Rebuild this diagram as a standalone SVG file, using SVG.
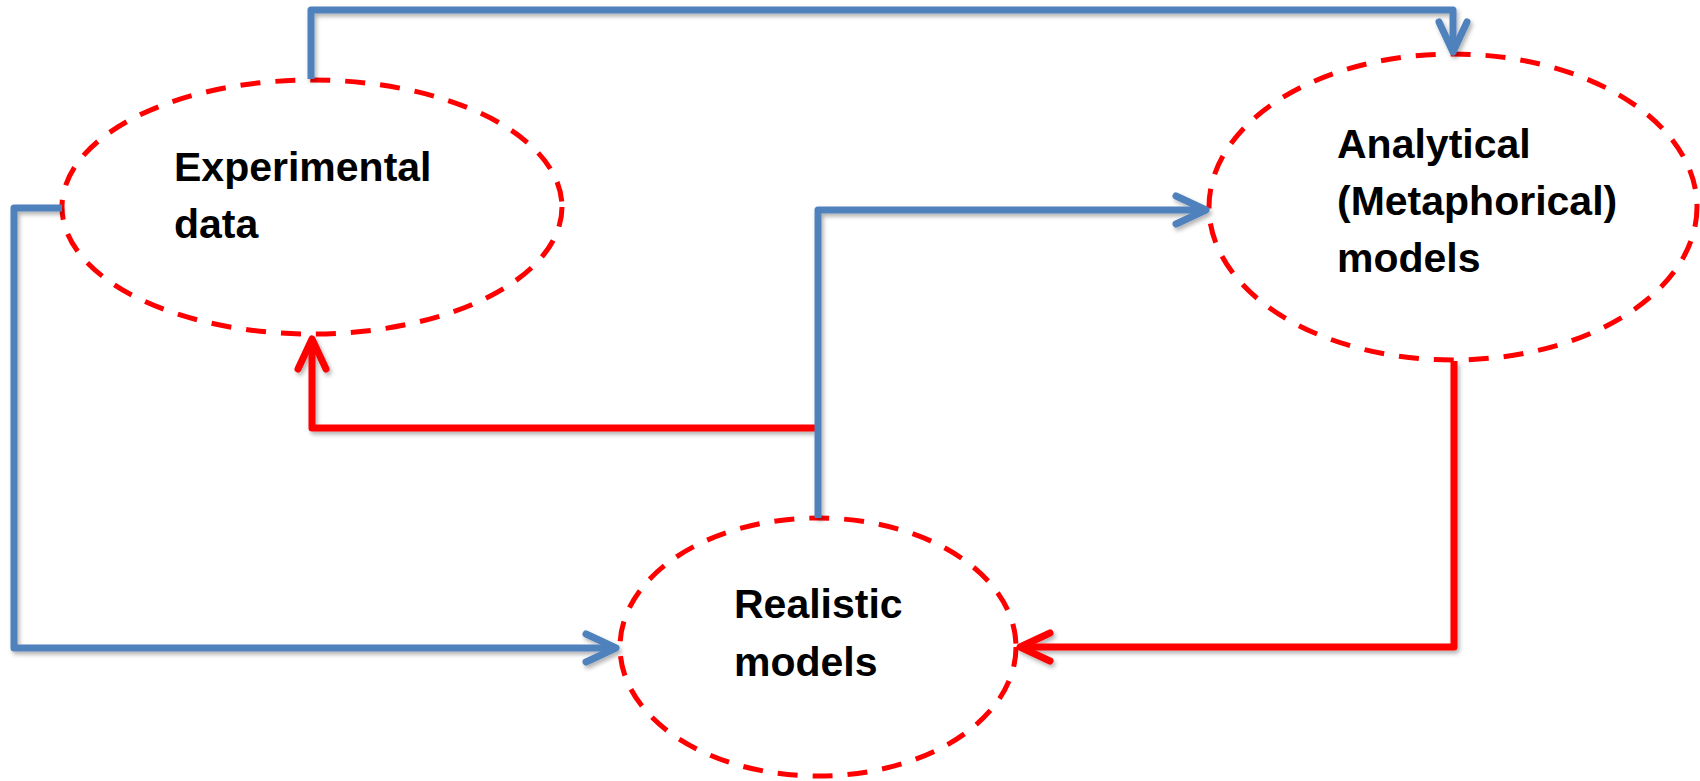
<svg xmlns="http://www.w3.org/2000/svg" width="1700" height="781" viewBox="0 0 1700 781">
  <style>
    .node { fill: none; stroke: #FF0000; stroke-width: 5; stroke-dasharray: 20 15; }
    .label { font-family: "Liberation Sans", Arial, sans-serif; font-weight: bold; font-size: 41px; fill: #000000; }
    .wire { fill: none; stroke-width: 7; stroke-linejoin: round; stroke-linecap: butt; }
    .blue { stroke: #4F81BD; }
    .red { stroke: #FF0000; }
  </style>
  <defs>
    <filter id="shade" x="-5%" y="-5%" width="110%" height="110%">
      <feDropShadow dx="2" dy="3" stdDeviation="2" flood-color="#000000" flood-opacity="0.3"/>
    </filter>
    <marker id="arrow-blue" markerUnits="userSpaceOnUse" markerWidth="40" markerHeight="40" refX="0" refY="0" orient="auto" overflow="visible">
      <path d="M -30 -14 L 0 0 L -30 14" fill="none" stroke="#4F81BD" stroke-width="7" stroke-linecap="round" stroke-linejoin="round"/>
    </marker>
    <marker id="arrow-red" markerUnits="userSpaceOnUse" markerWidth="40" markerHeight="40" refX="0" refY="0" orient="auto" overflow="visible">
      <path d="M -30 -14 L 0 0 L -30 14" fill="none" stroke="#FF0000" stroke-width="7" stroke-linecap="round" stroke-linejoin="round"/>
    </marker>
  </defs>

  <rect x="0" y="0" width="1700" height="781" fill="#FFFFFF"/>

  <g id="experimental-data">
    <ellipse class="node" cx="312" cy="207" rx="250" ry="127"/>
    <text class="label" x="174" y="181">Experimental</text>
    <text class="label" x="174" y="238">data</text>
  </g>

  <g id="analytical-models">
    <ellipse class="node" cx="1453" cy="207" rx="244" ry="153"/>
    <text class="label" x="1337" y="158">Analytical</text>
    <text class="label" x="1337" y="215">(Metaphorical)</text>
    <text class="label" x="1337" y="272">models</text>
  </g>

  <g id="realistic-models">
    <ellipse class="node" cx="818" cy="647" rx="198" ry="129"/>
    <text class="label" x="734" y="618">Realistic</text>
    <text class="label" x="734" y="676">models</text>
  </g>

  <g id="connectors" filter="url(#shade)">
    <!-- realistic -> experimental (red, branching off the blue riser) -->
    <path class="wire red" d="M 818 428 L 312 428 L 312 339" marker-end="url(#arrow-red)"/>
    <!-- analytical -> realistic -->
    <path class="wire red" d="M 1454 361 L 1454 647 L 1020 647" marker-end="url(#arrow-red)"/>
    <!-- experimental -> analytical (over the top) -->
    <path class="wire blue" d="M 311 79 L 311 10 L 1453 10 L 1453 52" marker-end="url(#arrow-blue)"/>
    <!-- experimental -> realistic (down the left side) -->
    <path class="wire blue" d="M 62 208 L 14 208 L 14 648 L 616 648" marker-end="url(#arrow-blue)"/>
    <!-- realistic -> analytical -->
    <path class="wire blue" d="M 818 518 L 818 210 L 1206 210" marker-end="url(#arrow-blue)"/>
  </g>
</svg>
